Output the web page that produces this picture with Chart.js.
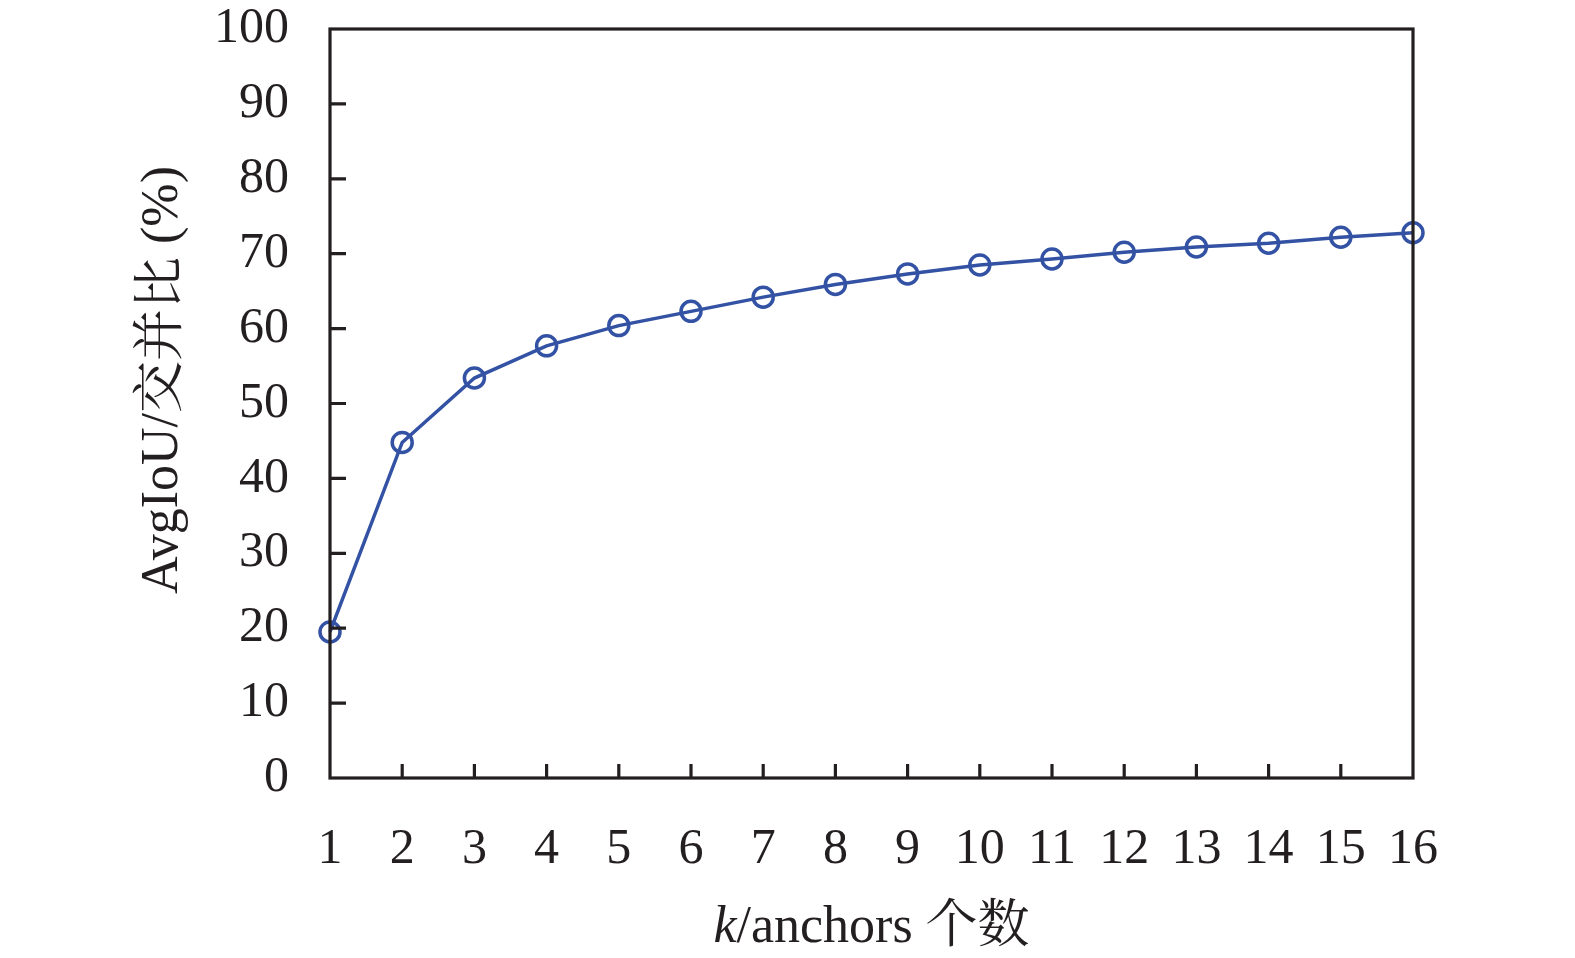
<!DOCTYPE html>
<html>
<head>
<meta charset="utf-8">
<script src="https://cdn.jsdelivr.net/npm/chart.js@4.4.1/dist/chart.umd.min.js"></script>
<style>
  html, body { margin: 0; padding: 0; background: #fff; }
  #wrap { width: 1575px; height: 958px; }
</style>
</head>
<body>
<div id="wrap"><canvas id="canvas"></canvas></div>
<script>
var kValues = [1, 2, 3, 4, 5, 6, 7, 8, 9, 10, 11, 12, 13, 14, 15, 16];
var avgIoU = [19.5, 44.8, 53.4, 57.7, 60.4, 62.3, 64.2, 65.9, 67.3, 68.5, 69.3, 70.2, 70.9, 71.4, 72.2, 72.8];
var yTicks = [0, 10, 20, 30, 40, 50, 60, 70, 80, 90, 100];

var ink = '#231f20';
var blue = '#3352a4';
var serif = "'Liberation Serif', 'Times New Roman', 'Noto Serif CJK SC', 'Noto Sans CJK SC', serif";

var points = kValues.map(function(k, i){
    return {x: k, y: avgIoU[i]};
});

// box frame, inward ticks and the two axis titles
var framePlugin = {
    id: 'frame',
    afterDraw: function(chart){
        var c = chart.ctx, a = chart.chartArea;
        var xs = chart.scales.x, ys = chart.scales.y;
        c.save();
        c.strokeStyle = ink;
        c.lineWidth = 3.2;
        c.beginPath();
        kValues.forEach(function(k){
            if (k === kValues[0] || k === kValues[kValues.length - 1]) return;
            var px = xs.getPixelForValue(k);
            c.moveTo(px, a.bottom);
            c.lineTo(px, a.bottom - 14);
        });
        yTicks.forEach(function(v){
            if (v === 0 || v === 100) return;
            var py = ys.getPixelForValue(v);
            c.moveTo(a.left, py);
            c.lineTo(a.left + 16, py);
        });
        c.stroke();
        c.strokeRect(a.left, a.top, a.right - a.left, a.bottom - a.top);

        c.fillStyle = ink;

        // x title with italic k
        c.textBaseline = 'alphabetic';
        var f1 = "italic 52px " + serif, f2 = "52px " + serif;
        c.font = f1;
        var w1 = c.measureText('k').width;
        c.font = f2;
        var rest = '/anchors 个数';
        var w2 = c.measureText(rest).width;
        var x0 = (a.left + a.right) / 2 - (w1 + w2) / 2;
        c.font = f1;
        c.fillText('k', x0, 942);
        c.font = f2;
        c.fillText(rest, x0 + w1, 942);

        // y title
        c.translate(163, 380);
        c.rotate(-Math.PI / 2);
        c.font = "52px " + serif;
        c.textAlign = 'center';
        c.textBaseline = 'middle';
        c.fillText('AvgIoU/交并比 (%)', 0, 0);
        c.restore();
    }
};

var ctx = document.getElementById('canvas').getContext('2d');
var myChart = new Chart(ctx, {
    type: 'line',
    data: {
        datasets: [{
            label: 'AvgIoU',
            data: points,
            borderColor: blue,
            backgroundColor: 'transparent',
            borderWidth: 3.5,
            pointRadius: 10,
            pointBorderWidth: 3.5,
            pointBorderColor: blue,
            pointBackgroundColor: 'transparent',
            tension: 0,
            clip: false
        }]
    },
    options: {
        responsive: true,
        maintainAspectRatio: false,
        animation: false,
        devicePixelRatio: 1,
        layout: { padding: { left: 0, top: 29, right: 162, bottom: 0 } },
        plugins: { legend: { display: false }, tooltip: { enabled: false } },
        scales: {
            x: {
                type: 'linear',
                min: 1,
                max: 16,
                afterFit: function(s){ s.height = 180; },
                afterBuildTicks: function(s){
                    s.ticks = kValues.map(function(v){ return {value: v}; });
                },
                grid: { display: false, drawTicks: false },
                border: { display: false },
                ticks: {
                    color: ink,
                    padding: 42,
                    maxRotation: 0,
                    autoSkip: false,
                    font: { family: serif, size: 50 }
                }
            },
            y: {
                min: 0,
                max: 100,
                afterFit: function(s){
                    s.width = 330;
                    s.paddingTop = 0;
                    s.paddingBottom = 0;
                },
                afterBuildTicks: function(s){
                    s.ticks = yTicks.map(function(v){ return {value: v}; });
                },
                grid: { display: false, drawTicks: false },
                border: { display: false },
                ticks: {
                    color: ink,
                    padding: 41,
                    font: { family: serif, size: 50 }
                }
            }
        }
    },
    plugins: [framePlugin]
});
</script>
</body>
</html>
